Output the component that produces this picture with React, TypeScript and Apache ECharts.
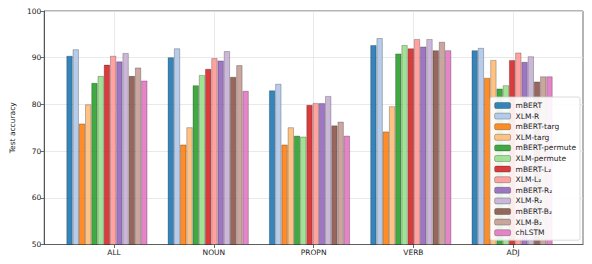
import React, { useEffect, useRef } from "react";
import * as echarts from "echarts";

const categories = ["ALL", "NOUN", "PROPN", "VERB", "ADJ"];
const seriesNames = [
  "mBERT", "XLM-R", "mBERT-targ", "XLM-targ", "mBERT-permute", "XLM-permute",
  "mBERT-L₂", "XLM-L₂", "mBERT-R₂", "XLM-R₂", "mBERT-B₂", "XLM-B₂", "chLSTM",
];
const colors = [
  "#1f77b4", "#aec7e8", "#ff7f0e", "#ffbb78", "#2ca02c", "#98df8a",
  "#d62728", "#ff9896", "#9467bd", "#c5b0d5", "#8c564b", "#c49c94", "#e377c2",
];
// values per series across categories [ALL, NOUN, PROPN, VERB, ADJ]
const mBERT = [90.4, 90.1, 83.0, 92.7, 91.6];
const XLMR = [91.8, 92.0, 84.4, 94.2, 92.1];
const mBERTtarg = [75.9, 71.4, 71.4, 74.2, 85.7];
const XLMtarg = [80.0, 75.1, 75.1, 79.6, 89.5];
const mBERTpermute = [84.6, 84.1, 73.3, 90.9, 83.4];
const XLMpermute = [86.1, 86.3, 73.1, 92.7, 84.1];
const mBERTL2 = [88.5, 87.6, 79.9, 92.0, 89.5];
const XLML2 = [90.4, 89.9, 80.3, 94.0, 91.1];
const mBERTR2 = [89.2, 89.4, 80.3, 92.4, 89.1];
const XLMR2 = [91.0, 91.4, 81.8, 94.0, 90.3];
const mBERTB2 = [86.1, 85.9, 75.5, 91.6, 84.9];
const XLMB2 = [87.9, 88.4, 76.3, 93.4, 86.0];
const chLSTM = [85.1, 82.9, 73.3, 91.6, 86.0];
const allValues = [
  mBERT, XLMR, mBERTtarg, XLMtarg, mBERTpermute, XLMpermute,
  mBERTL2, XLML2, mBERTR2, XLMR2, mBERTB2, XLMB2, chLSTM,
];
const yTicks = { min: 50, max: 100, step: 10 };

export default function App() {
  const ref = useRef<HTMLDivElement>(null);
  useEffect(() => {
    if (!ref.current) return;
    const chart = echarts.init(ref.current, undefined, { renderer: "svg" });
    const font = "DejaVu Sans";
    const catIdx = categories.map((_, i) => i);
    // frame grid spans -0.7..4.7 category units; bar grid spans -0.5..4.5
    const frameLeft = 36;
    const frameRight = 9;
    const frameW = 592 - frameLeft - frameRight;
    const unit = frameW / 5.4;
    chart.setOption({
      animation: false,
      textStyle: { fontFamily: font },
      grid: [
        {
          left: frameLeft, right: frameRight, top: 11, bottom: 19.5,
          show: true, borderColor: "#444", borderWidth: 0.8,
          backgroundColor: "transparent",
        },
        {
          left: frameLeft + 0.2 * unit, right: frameRight + 0.2 * unit, top: 11, bottom: 19.5,
        },
      ],
      legend: {
        orient: "vertical",
        right: 12,
        top: 97,
        padding: [4, 4, 3, 4],
        itemWidth: 16,
        itemHeight: 6,
        itemGap: 1.6,
        backgroundColor: "rgba(255,255,255,0.9)",
        borderColor: "#d0d0d0",
        borderWidth: 0.8,
        borderRadius: 2,
        textStyle: { fontSize: 7.5, color: "#222", fontFamily: font, lineHeight: 9 },
        itemStyle: { borderColor: "rgba(0,0,0,0.35)", borderWidth: 0.8 },
        data: seriesNames,
      },
      xAxis: [
        {
          type: "value",
          gridIndex: 0,
          min: -0.7,
          max: 4.7,
          splitNumber: 5,
          axisLine: { show: true, onZero: false, lineStyle: { color: "#444", width: 0.8 } },
          axisTick: { show: true, length: 3.5, lineStyle: { color: "#444", width: 0.8 }, customValues: catIdx },
          axisLabel: {
            fontSize: 7.5, color: "#222", margin: 4, customValues: catIdx,
            formatter: (v: number) => (Number.isInteger(v) && categories[v] ? categories[v] : ""),
          },
          splitLine: { show: true, lineStyle: { color: "#e3e3e3", width: 0.8 } },
        },
        {
          type: "category",
          gridIndex: 1,
          data: categories,
          show: false,
        },
      ],
      yAxis: [
        {
          type: "value",
          gridIndex: 0,
          min: yTicks.min,
          max: yTicks.max,
          interval: yTicks.step,
          name: "Test accuracy",
          nameLocation: "middle",
          nameGap: 21,
          nameTextStyle: { fontSize: 7.5, color: "#222" },
          axisLine: { show: true, onZero: false, lineStyle: { color: "#444", width: 0.8 } },
          axisTick: { show: true, length: 3.5, lineStyle: { color: "#444", width: 0.8 } },
          axisLabel: { fontSize: 7.5, color: "#222", margin: 3 },
          splitLine: { show: true, lineStyle: { color: "#e3e3e3", width: 0.8 } },
        },
        {
          type: "value",
          gridIndex: 1,
          min: yTicks.min,
          max: yTicks.max,
          interval: yTicks.step,
          show: false,
        },
      ],
      series: seriesNames.map((name, s) => ({
        name,
        type: "bar",
        xAxisIndex: 1,
        yAxisIndex: 1,
        data: allValues[s],
        barGap: "0%",
        barCategoryGap: "20%",
        itemStyle: {
          color: colors[s],
          opacity: 0.9,
          borderColor: "rgba(0,0,0,0.35)",
          borderWidth: 0.8,
        },
      })),
    });
    return () => chart.dispose();
  }, []);
  return <div ref={ref} style={{ width: 592, height: 264, position: "absolute", left: 0, top: 0, background: "#fff" }} />;
}
